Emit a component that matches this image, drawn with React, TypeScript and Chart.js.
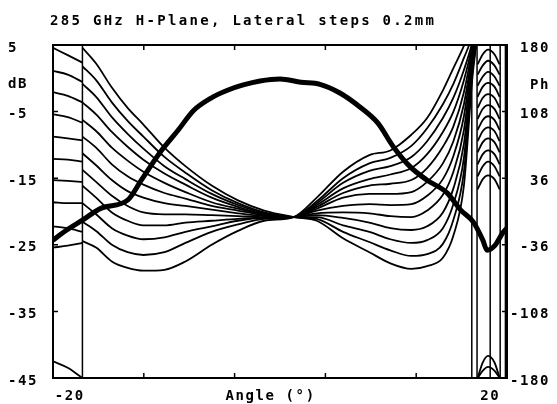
import React, { useEffect, useRef } from 'react';
import { Chart, registerables } from 'chart.js';

Chart.register(...registerables);

const TITLE = '285 GHz H-Plane, Lateral steps 0.2mm';
const X_MIN = -21.6;
const X_MAX = 21.6;

const xTickValues = [-20, -0.9, 20];
const xTickLabels = ['-20', 'Angle (°)', '20'];
const dbTickValues = [5, -0.5, -5, -15, -25, -35, -45];
const dbTickLabels = ['5', 'dB', '-5', '-15', '-25', '-35', '-45'];
const phTickValues = [180, 140, 108, 36, -36, -108, -180];
const phTickLabels = ['180', 'Ph', '108', '36', '-36', '-108', '-180'];
const frameTicksX = [-12.96, -4.32, 4.32, 12.96];
const frameTicksDb = [-5, -15, -25, -35];

// Amplitude (dB) – thick curve
const ampAngles = [-21.6, -20.5, -18.8, -17.0, -14.5, -13.2, -11.4, -9.7, -8.2, -6.6, -5.0, -3.5, -1.9, 0.0, 2.0, 3.8, 5.7, 7.6, 9.3, 10.8, 12.4, 14.0, 15.9, 17.2, 18.4, 19.3, 19.7, 20.5, 21.2, 21.6];
const ampDb = [-24.3, -23.0, -21.3, -19.5, -18.3, -15.3, -11.1, -7.8, -4.8, -3.0, -1.8, -1.0, -0.4, -0.1, -0.6, -0.9, -2.2, -4.3, -6.7, -10.3, -13.3, -15.3, -17.2, -19.8, -21.6, -24.3, -25.8, -25.0, -23.2, -22.5];

// Phase curves (deg), main body
const phaseAngles = [-18.8, -17.5, -16, -14.5, -13, -11, -9, -6.5, -4, -1.5, 1.3, 3.5, 6, 8.5, 10.5, 12.5, 14, 15.5, 16.5, 17.5, 18.3, 18.7];
const phase0 = [177, 160, 134, 112, 94, 69, 49, 28, 12, 1, -6, -10, -29, -44, -56, -62, -59, -50, -26, 28, 144, 183];
const phase1 = [157, 142, 118, 98, 81, 59, 42, 23, 9, -1, -6, -8, -22, -33, -42, -48, -46, -35, -9, 43, 149, 185];
const phase2 = [138, 124, 102, 84, 68, 49, 35, 19, 7, -2, -6, -6, -15, -22, -30, -34, -31, -18, 8, 58, 153, 188];
const phase3 = [118, 105, 86, 70, 56, 41, 29, 15, 5, -3, -6, -4, -7, -12, -18, -20, -16, -1, 25, 73, 157, 190];
const phase4 = [99, 87, 69, 55, 43, 31, 21, 10, 3, -3, -6, -2, -1, -2, -5, -6, 1, 18, 43, 88, 162, 192];
const phase5 = [81, 69, 51, 38, 29, 20, 14, 6, 1, -4, -6, 1, 6, 8, 7, 8, 17, 35, 60, 103, 166, 194];
const phase6 = [63, 50, 34, 22, 15, 9, 6, 2, -2, -5, -6, 3, 15, 19, 19, 21, 32, 52, 76, 116, 170, 196];
const phase7 = [45, 32, 17, 6, -1, -3, -3, -4, -5, -6, -6, 5, 20, 28, 30, 34, 47, 70, 92, 129, 175, 198];
const phase8 = [28, 15, -1, -10, -15, -15, -12, -10, -8, -7, -6, 7, 25, 35, 40, 47, 62, 86, 108, 142, 179, 201];
const phase9 = [9, -3, -18, -26, -30, -28, -22, -16, -10, -7, -6, 9, 31, 44, 49, 59, 76, 101, 123, 153, 183, 205];
const phase10 = [-11, -21, -36, -44, -47, -44, -34, -22, -14, -8, -6, 11, 36, 52, 58, 71, 90, 116, 138, 166, 190, 209];
const phase11 = [-32, -39, -54, -61, -64, -63, -54, -36, -21, -10, -6, 15, 43, 61, 66, 83, 101, 131, 155, 179, 202, 218];
const phaseCurves = [phase0, phase1, phase2, phase3, phase4, phase5, phase6, phase7, phase8, phase9, phase10, phase11];

// Left edge segments (before the -18.8 deg wrap)
const leftSegAngles = [-21.6, -20.2, -18.8];
const leftSegPhases = [
  [177, 169, 161], [152, 148, 140], [129, 125, 118], [105, 102, 96], [81, 79, 77],
  [57, 56, 54], [34, 33, 32], [10, 9, 9], [-16, -18, -22], [-39, -37, -34], [-162, -169, -180],
];

// Right edge wrapped pieces
const archAngles = [18.8, 19.3, 19.8, 20.4, 20.9];
const archPhases = [
  [159, 170, 175, 170, 159], [148, 158, 163, 158, 148], [136, 146, 151, 146, 136],
  [124, 135, 139, 135, 124], [112, 123, 127, 123, 112], [100, 111, 115, 111, 100],
  [88, 99, 103, 99, 88], [76, 87, 91, 87, 76], [64, 75, 79, 75, 64],
  [51, 62, 66, 62, 51], [38, 49, 54, 49, 38], [24, 35, 39, 35, 24],
];
const bottomArcAngles = [18.8, 19.3, 19.8, 20.4, 20.9];
const bottomArcPhases = [
  [-180, -163, -156, -163, -180],
  [-180, -172, -168, -172, -180],
];

// Phase wrap discontinuities (full-height jumps)
const wrapAngles = [-18.8, 18.25, 18.75, 20.0, 20.95, 21.45];

const FONT = { family: '"DejaVu Sans Mono", monospace', size: 14, weight: 'bold' as const };

function zip(xs: number[], ys: number[]) {
  return xs.map((x, i) => ({ x, y: ys[i] }));
}

const plotterPlugin = {
  id: 'plotterPlugin',
  beforeDraw(chart: any) {
    chart.ctx.letterSpacing = '1.6px';
  },
  afterDatasetsDraw(chart: any) {
    const { ctx, chartArea, scales } = chart;
    const len = 5;
    ctx.save();
    ctx.strokeStyle = '#000';
    ctx.lineWidth = 1.5;
    ctx.beginPath();
    frameTicksX.forEach((v) => {
      const px = scales.x.getPixelForValue(v);
      ctx.moveTo(px, chartArea.top);
      ctx.lineTo(px, chartArea.top + len);
      ctx.moveTo(px, chartArea.bottom);
      ctx.lineTo(px, chartArea.bottom - len);
    });
    frameTicksDb.forEach((v) => {
      const py = scales.y.getPixelForValue(v);
      ctx.moveTo(chartArea.left, py);
      ctx.lineTo(chartArea.left + len, py);
      ctx.moveTo(chartArea.right, py);
      ctx.lineTo(chartArea.right - len, py);
    });
    ctx.stroke();
    ctx.restore();
  },
  afterDraw(chart: any) {
    const ctx = chart.ctx;
    ctx.save();
    ctx.letterSpacing = '2.3px';
    ctx.font = `${FONT.weight} ${FONT.size}px ${FONT.family}`;
    ctx.fillStyle = '#000';
    ctx.textAlign = 'left';
    ctx.textBaseline = 'middle';
    ctx.fillText(TITLE, 50, 21);
    ctx.restore();
    ctx.letterSpacing = '0px';
  },
};

export default function App() {
  const ref = useRef<HTMLCanvasElement | null>(null);

  useEffect(() => {
    document.body.style.margin = '0';
    const canvas = ref.current;
    if (!canvas) return;

    const thin = { borderColor: '#000', borderWidth: 1.8, pointRadius: 0, fill: false, yAxisID: 'y1', cubicInterpolationMode: 'monotone' as const };

    const datasets: any[] = [];
    leftSegPhases.forEach((p) => datasets.push({ ...thin, data: zip(leftSegAngles, p) }));
    phaseCurves.forEach((p) => datasets.push({ ...thin, data: zip(phaseAngles, p) }));
    archPhases.forEach((p) => datasets.push({ ...thin, data: zip(archAngles, p) }));
    bottomArcPhases.forEach((p) => datasets.push({ ...thin, data: zip(bottomArcAngles, p) }));
    wrapAngles.forEach((a) => datasets.push({ ...thin, borderWidth: 1.5, tension: 0, cubicInterpolationMode: 'default', data: [{ x: a, y: -180 }, { x: a, y: 180 }] }));
    datasets.push({
      borderColor: '#000', borderWidth: 5, pointRadius: 0, fill: false, yAxisID: 'y',
      cubicInterpolationMode: 'monotone', data: zip(ampAngles, ampDb),
    });

    const chart = new Chart(canvas, {
      type: 'line',
      data: { datasets },
      plugins: [plotterPlugin],
      options: {
        animation: false,
        responsive: false,
        devicePixelRatio: 1,
        layout: { padding: { left: 8, right: 7, top: 0, bottom: 0 } },
        plugins: { legend: { display: false }, tooltip: { enabled: false }, title: { display: false } },
        scales: {
          x: {
            type: 'linear', position: 'bottom', min: X_MIN, max: X_MAX,
            afterBuildTicks: (s: any) => { s.ticks = xTickValues.map((v) => ({ value: v })); },
            afterFit: (s: any) => { s.height = 26; },
            ticks: { callback: (_v: any, i: number) => xTickLabels[i], font: FONT, color: '#000', padding: 10, maxRotation: 0, autoSkip: false },
            grid: { display: false, drawTicks: false },
            border: { display: true, color: '#000', width: 2 },
          },
          xTop: {
            type: 'linear', position: 'top', min: X_MIN, max: X_MAX,
            afterFit: (s: any) => { s.height = 45; },
            ticks: { display: false },
            grid: { display: false, drawTicks: false },
            border: { display: true, color: '#000', width: 2 },
          },
          y: {
            type: 'linear', position: 'left', min: -45, max: 5,
            afterBuildTicks: (s: any) => { s.ticks = dbTickValues.map((v) => ({ value: v })); },
            afterFit: (s: any) => { s.width = 45; },
            ticks: { callback: (_v: any, i: number) => dbTickLabels[i], font: FONT, color: '#000', crossAlign: 'far', padding: 0, labelOffset: 3, autoSkip: false },
            grid: { display: false, drawTicks: false },
            border: { display: true, color: '#000', width: 2 },
          },
          y1: {
            type: 'linear', position: 'right', min: -180, max: 180,
            afterBuildTicks: (s: any) => { s.ticks = phTickValues.map((v) => ({ value: v })); },
            afterFit: (s: any) => { s.width = 43; },
            ticks: { callback: (_v: any, i: number) => phTickLabels[i], font: FONT, color: '#000', crossAlign: 'far', padding: 0, labelOffset: 3, autoSkip: false },
            grid: { display: false, drawTicks: false },
            border: { display: true, color: '#000', width: 2 },
          },
        },
      } as any,
    });
    return () => chart.destroy();
  }, []);

  return (
    <div style={{ width: 557, height: 404 }}>
      <canvas ref={ref} width={557} height={404} style={{ display: 'block' }} />
    </div>
  );
}
